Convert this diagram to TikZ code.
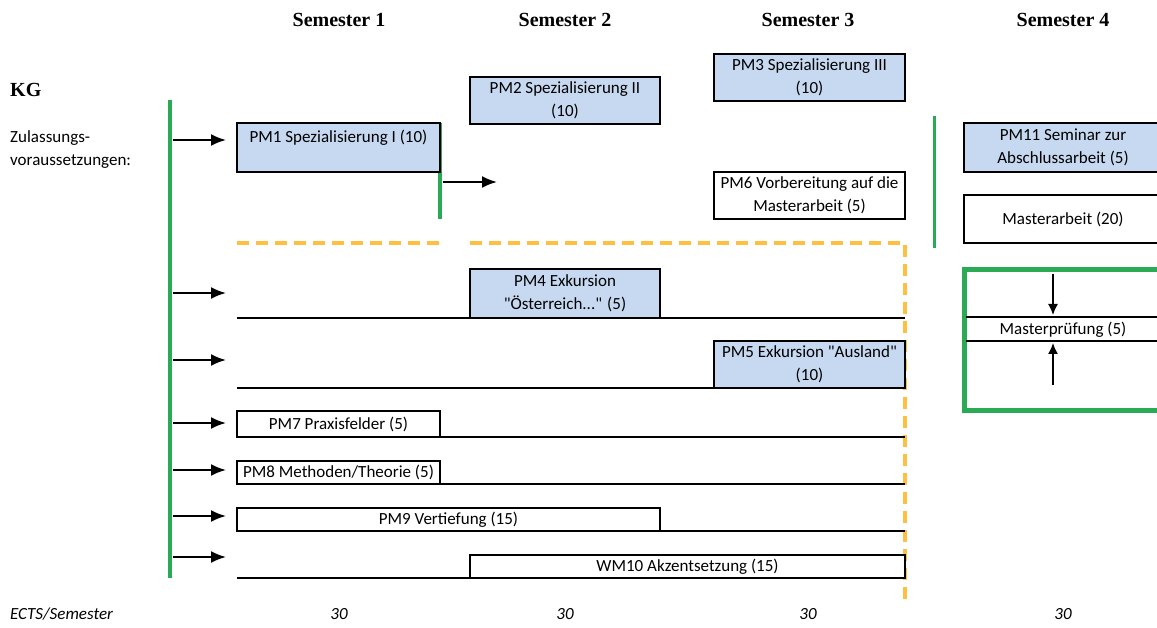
\documentclass[tikz,border=0pt]{standalone}
\usepackage{fontspec}
\setmainfont{Carlito}
\newfontfamily\headfont{Liberation Serif}
\usepackage{tikz}
\usetikzlibrary{arrows.meta}
\definecolor{modblue}{HTML}{C6D9F1}
\definecolor{kgreen}{HTML}{2BAA55}
\definecolor{korange}{HTML}{FFBF40}

\begin{document}
\begin{tikzpicture}[x = 1pt, y = -1pt,
    every node/.style = {font = \fontsize{17}{23}\selectfont, inner sep = 0, align = center},
    head/.style = {font = \headfont\bfseries\fontsize{20}{24}\selectfont},
    modbox/.style = {draw, line width = 1.2pt, fill = modblue},
    plainbox/.style = {draw, line width = 1.2pt, fill = white},
    arr/.style = {-{Latex[length = 15pt, width = 12pt]}, line width = 2pt},
    smallarr/.style = {-{Latex[length = 11pt, width = 10pt]}, line width = 1.5pt},
    gbar/.style = {kgreen, line width = 4.5pt}]
    \clip (0, 0) rectangle (1157, 628);

    %% semester heads
    \node[head] (s1) at (339, 20) {Semester 1};
    \node[head] (s2) at (565, 20) {Semester 2};
    \node[head] (s3) at (808, 20) {Semester 3};
    \node[head] (s4) at (1063, 20) {Semester 4};
    \node[head, right = 0] (kg) at (10, 90) {KG};
    \node[right = 0, align = left] (zul) at (10, 150) {Zulassungs-\\voraussetzungen:};

    %% green bars
    \draw[gbar] (170, 100) -- (170, 578);
    \draw[gbar] (440, 123) -- (440, 219);
    \draw[gbar, line width = 3pt] (934, 116) -- (934, 248);

    %% orange frame
    \draw[korange, line width = 4pt, dash pattern = on 12pt off 7pt]
        (237, 243) -- (440, 243) (470, 243) -- (905, 243) -- (905, 601);

    %% row lines
    \draw[line width = 1.2pt] (237, 318) -- (905, 318);
    \draw[line width = 1.2pt] (237, 388) -- (905, 388);
    \draw[line width = 1.2pt] (237, 437) -- (905, 437);
    \draw[line width = 1.2pt] (237, 484) -- (905, 484);
    \draw[line width = 1.2pt] (237, 531) -- (905, 531);
    \draw[line width = 1.2pt] (237, 578) -- (905, 578);

    %% modules
    \node[modbox, minimum width = 203, minimum height = 49] (pm1) at (338.5, 147.5)
        {PM1 Spezialisierung I (10)\\\mbox{}};
    \node[modbox, minimum width = 190, minimum height = 47] (pm2) at (565, 100.5)
        {PM2 Spezialisierung II\\(10)};
    \node[modbox, minimum width = 191, minimum height = 47] (pm3) at (809.5, 77.5)
        {PM3 Spezialisierung III\\(10)};
    \node[plainbox, minimum width = 191, minimum height = 47] (pm6) at (809.5, 195.5)
        {PM6 Vorbereitung auf die\\Masterarbeit (5)};
    \node[modbox, minimum width = 190, minimum height = 49] (pm4) at (565, 293.5)
        {PM4 Exkursion\\\textquotedbl Österreich...\textquotedbl{} (5)};
    \node[modbox, minimum width = 191, minimum height = 47] (pm5) at (809.5, 364.5)
        {PM5 Exkursion \textquotedbl Ausland\textquotedbl\\(10)};
    \node[plainbox, minimum width = 203, minimum height = 26] (pm7) at (338.5, 424)
        {PM7 Praxisfelder (5)};
    \node[plainbox, minimum width = 203, minimum height = 23] (pm8) at (338.5, 472.5)
        {PM8 Methoden/Theorie (5)};
    \node[plainbox, minimum width = 423, minimum height = 23] (pm9) at (448.5, 519.5)
        {PM9 Vertiefung (15)};
    \node[plainbox, minimum width = 435, minimum height = 23] (wm10) at (687.5, 566.5)
        {WM10 Akzentsetzung (15)};
    \node[modbox, minimum width = 198, minimum height = 49] (pm11) at (1063, 147.5)
        {PM11 Seminar zur\\Abschlussarbeit (5)};
    \node[plainbox, minimum width = 198, minimum height = 48] (ma) at (1063, 219)
        {Masterarbeit (20)};

    %% Masterpruefung
    \draw[kgreen, line width = 5pt] (964, 270) rectangle (1165, 410);
    \draw[line width = 1.2pt] (966, 317) -- (1160, 317) (966, 341) -- (1160, 341);
    \node (mp) at (1063, 330) {Masterprüfung (5)};
    \coordinate (mptop) at (1053, 274);
    \coordinate (mpbot) at (1053, 385);
    \draw[smallarr] (mptop) -- (mptop |- 0, 315);
    \draw[smallarr] (mpbot) -- (mpbot |- 0, 343);

    %% arrows
    \draw[arr] (173, 140) -- (226, 140);
    \draw[arr] (443, 182) -- (497, 182);
    \draw[arr] (173, 293) -- (226, 293);
    \draw[arr] (173, 360) -- (226, 360);
    \draw[arr] (173, 423) -- (226, 423);
    \draw[arr] (173, 470) -- (226, 470);
    \draw[arr] (173, 516) -- (226, 516);
    \draw[arr] (173, 557) -- (226, 557);

    %% ects
    \node[right = 0, font = \itshape\fontsize{17}{23}\selectfont] (ects) at (10, 614) {ECTS/Semester};
    \node[font = \itshape\fontsize{17}{23}\selectfont] (e1) at (339, 614) {30};
    \node[font = \itshape\fontsize{17}{23}\selectfont] (e2) at (565, 614) {30};
    \node[font = \itshape\fontsize{17}{23}\selectfont] (e3) at (808, 614) {30};
    \node[font = \itshape\fontsize{17}{23}\selectfont] (e4) at (1063, 614) {30};
\end{tikzpicture}
\end{document}
